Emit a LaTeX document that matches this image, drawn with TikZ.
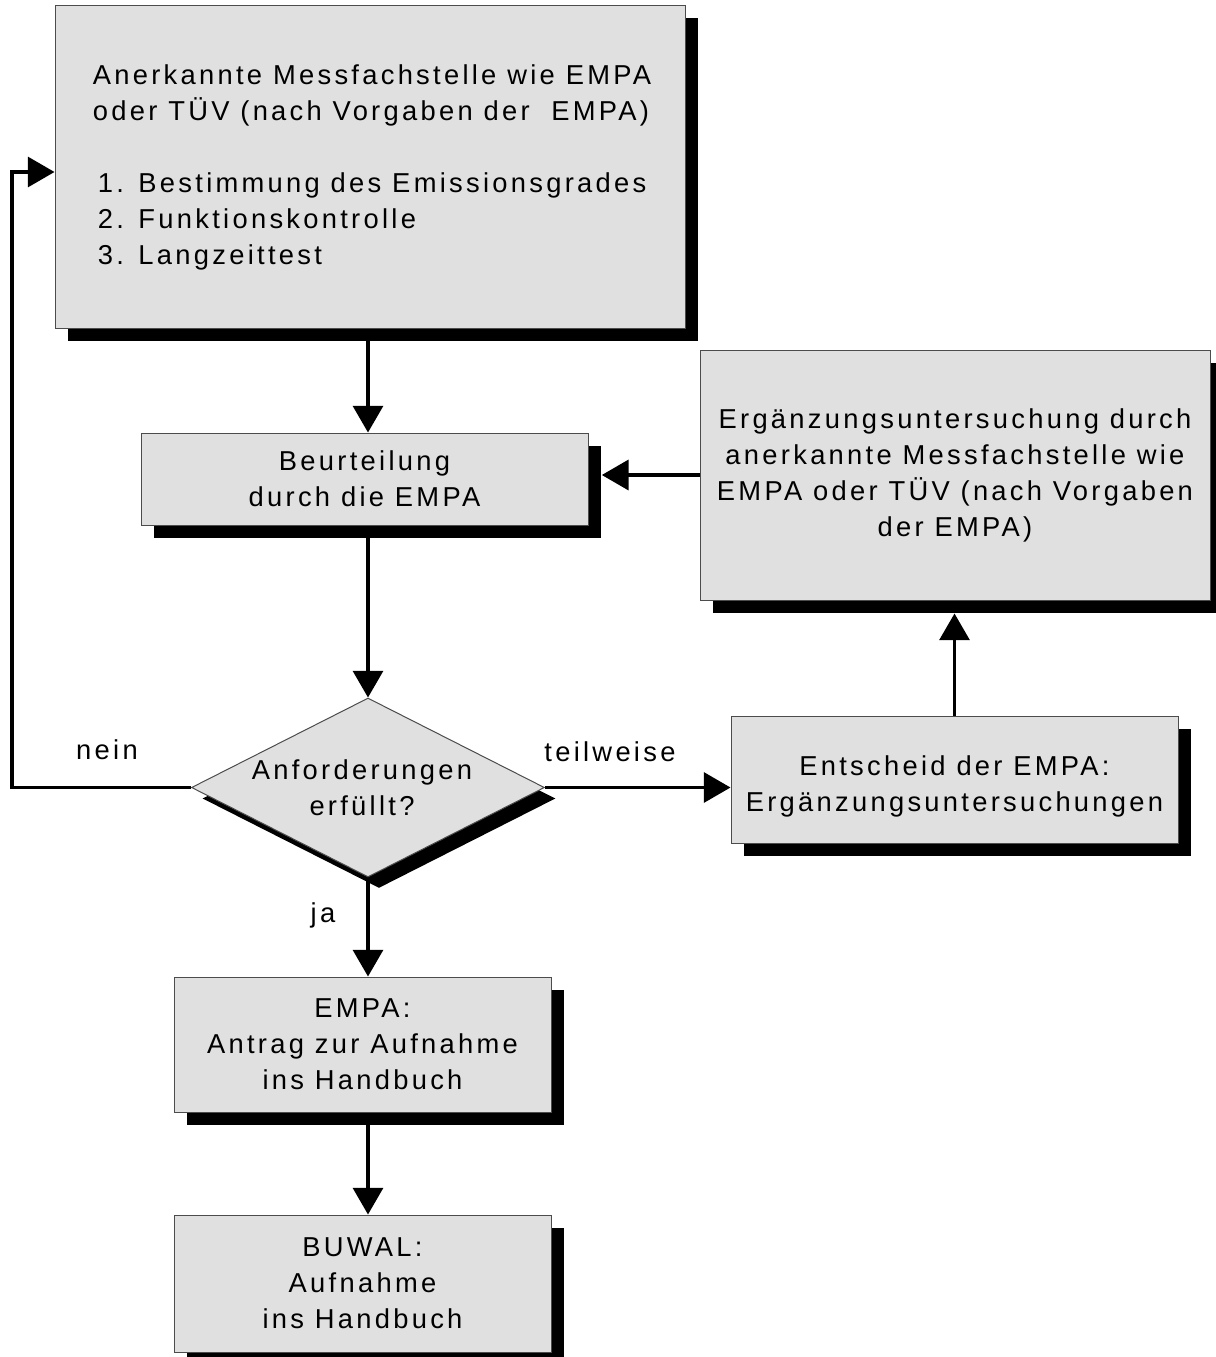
\documentclass[tikz,border=0pt]{standalone}
\usepackage{fontspec}
\setmainfont{Liberation Sans}[LetterSpace=12]
\usetikzlibrary{arrows.meta,shadows,shapes.geometric,backgrounds,calc}
\tikzset{
  txt/.style={font=\fontsize{20.5}{27}\selectfont, inner sep=0pt, align=center},
  boxstyle/.style={txt, draw=black!70, line width=0.75pt, fill=black!12, rectangle,
    drop shadow={shadow xshift=9.75pt, shadow yshift=-9.75pt, fill=black, opacity=1}},
  decstyle/.style={diamond, draw=black!70, line width=0.75pt, fill=black!12, inner sep=0pt,
    drop shadow={shadow xshift=8.25pt, shadow yshift=-8.25pt, fill=black, opacity=1}},
  conn/.style={line width=2.4pt, -{Triangle[length=20pt,width=22.5pt]}},
}
\begin{document}
\begin{tikzpicture}[x=0.75pt,y=-0.75pt]
\useasboundingbox (0,0) rectangle (1215,1357);
\node[boxstyle, minimum width=472.5pt, minimum height=242.25pt] (b1) at (370,166.5) {};
\node[txt, align=left] (b1t) at (372,167) {Anerkannte Messfachstelle wie EMPA\\oder TÜV (nach Vorgaben der\ \ EMPA)\\[27pt]\hspace{3.75pt}1. Bestimmung des Emissionsgrades\\\hspace{3.75pt}2. Funktionskontrolle\\\hspace{3.75pt}3. Langzeittest};
\node[boxstyle, minimum width=335.25pt, minimum height=69pt] (b2) at (364.5,479) {Beurteilung\\durch die EMPA};
\node[boxstyle, minimum width=382.5pt, minimum height=187.5pt] (b3) at (955,475) {Ergänzungsuntersuchung durch\\anerkannte Messfachstelle wie\\EMPA oder TÜV (nach Vorgaben\\der EMPA)};
\node[decstyle, minimum width=264.75pt, minimum height=134.25pt] (d) at (368,787.5) {};
\node[txt] (dt) at (362,788) {Anforderungen\\erfüllt?};
\node[boxstyle, minimum width=335.25pt, minimum height=95.25pt] (b4) at (954.5,779.5) {};
\node[txt] (b4t) at (954.5,786) {Entscheid der EMPA:\\Ergänzungsuntersuchungen};
\node[boxstyle, minimum width=282.75pt, minimum height=101.25pt] (b5) at (362.5,1044.5) {EMPA:\\Antrag zur Aufnahme\\ins Handbuch};
\node[boxstyle, minimum width=282.75pt, minimum height=102.75pt] (b6) at (362.5,1283.5) {BUWAL:\\Aufnahme\\ins Handbuch};
\node[txt] (lnein) at (107,750) {nein};
\node[txt] (lteil) at (610,752) {teilweise};
\node[txt] (lja) at (323,915) {ja};
\coordinate (loopB) at (12,787.5);
\coordinate (loopT) at (12,172);
\begin{pgfonlayer}{background}
\draw[conn] (b1.south -| d.north) -- (b2.north -| d.north);
\draw[conn] (b2.south -| d.north) -- (d.north);
\draw[conn] (d.south) -- (b5.north -| d.south);
\draw[conn] (b5.south -| d.south) -- (b6.north -| d.south);
\draw[conn] (d.east) -- (d.east -| b4.west);
\draw[conn, shorten >=9.75pt] (b4.north) -- (b4.north |- b3.south);
\draw[conn, shorten >=10pt] (b3.west) -- (b3.west -| b2.east);
\draw[conn] (d.west) -- (loopB) -- (loopT) -- (loopT -| b1.west);
\end{pgfonlayer}
\end{tikzpicture}
\end{document}
